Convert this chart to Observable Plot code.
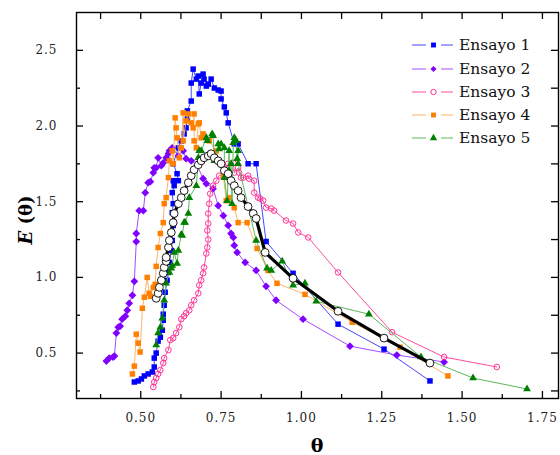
<!DOCTYPE html>
<html><head><meta charset="utf-8">
<script src="https://cdn.jsdelivr.net/npm/d3@7"></script>
<script src="https://cdn.jsdelivr.net/npm/@observablehq/plot@0.6"></script>
<style>body{margin:0;background:#fff}#chart{width:560px;height:455px}</style>
</head><body><div id="chart"></div>
<script>
// [θ, E(θ)]
const ensayo1 = [[0.480,0.309],[0.492,0.316],[0.502,0.329],[0.511,0.349],[0.523,0.362],[0.536,0.375],[0.542,0.408],[0.542,0.467],[0.548,0.500],[0.554,0.579],[0.561,0.605],[0.567,0.651],[0.570,0.717],[0.570,0.757],[0.573,0.816],[0.576,0.902],[0.582,0.981],[0.586,1.033],[0.589,1.099],[0.595,1.178],[0.598,1.244],[0.601,1.343],[0.598,1.428],[0.601,1.487],[0.598,1.560],[0.604,1.606],[0.601,1.639],[0.617,1.639],[0.613,1.685],[0.601,1.751],[0.617,1.856],[0.626,1.902],[0.635,1.948],[0.641,1.988],[0.645,2.047],[0.645,2.100],[0.657,2.165],[0.657,2.284],[0.663,2.376],[0.673,2.310],[0.679,2.330],[0.682,2.212],[0.688,2.284],[0.694,2.343],[0.697,2.310],[0.704,2.264],[0.710,2.277],[0.719,2.310],[0.729,2.251],[0.741,2.238],[0.750,2.231],[0.750,2.179],[0.760,2.126],[0.766,2.087],[0.772,2.021],[0.791,1.882],[0.803,1.882],[0.834,1.751],[0.859,1.751],[0.890,1.237],[0.974,1.027],[1.114,0.691],[1.257,0.526],[1.400,0.316]];
const ensayo2 = [[0.393,0.447],[0.402,0.467],[0.414,0.474],[0.418,0.480],[0.424,0.632],[0.430,0.671],[0.436,0.678],[0.442,0.724],[0.452,0.744],[0.458,0.783],[0.464,0.829],[0.474,0.882],[0.480,0.974],[0.486,1.237],[0.486,1.290],[0.495,1.441],[0.508,1.441],[0.514,1.560],[0.523,1.626],[0.530,1.632],[0.539,1.692],[0.542,1.724],[0.548,1.724],[0.554,1.790],[0.564,1.738],[0.570,1.757],[0.579,1.790],[0.586,1.817],[0.589,1.836],[0.598,1.856],[0.617,1.803],[0.632,1.836],[0.641,1.784],[0.657,1.770],[0.676,1.738],[0.694,1.652],[0.704,1.619],[0.725,1.586],[0.741,1.474],[0.757,1.408],[0.772,1.343],[0.781,1.290],[0.788,1.264],[0.791,1.211],[0.800,1.165],[0.825,1.099],[0.859,1.046],[0.890,0.941],[0.921,0.849],[1.005,0.724],[1.151,0.546],[1.297,0.487],[1.444,0.441]];
const ensayo3 = [[0.539,0.276],[0.542,0.309],[0.548,0.335],[0.554,0.362],[0.561,0.388],[0.570,0.434],[0.573,0.467],[0.586,0.520],[0.592,0.586],[0.601,0.599],[0.610,0.632],[0.620,0.671],[0.626,0.724],[0.635,0.744],[0.641,0.763],[0.651,0.783],[0.657,0.816],[0.666,0.849],[0.679,0.895],[0.682,0.948],[0.688,0.981],[0.694,1.027],[0.697,1.066],[0.704,1.158],[0.707,1.198],[0.710,1.250],[0.707,1.310],[0.710,1.356],[0.710,1.422],[0.713,1.487],[0.716,1.553],[0.725,1.606],[0.735,1.639],[0.744,1.672],[0.760,1.685],[0.766,1.718],[0.772,1.751],[0.788,1.757],[0.791,1.692],[0.803,1.724],[0.806,1.692],[0.812,1.659],[0.819,1.659],[0.834,1.672],[0.837,1.652],[0.853,1.639],[0.853,1.560],[0.865,1.527],[0.872,1.520],[0.881,1.507],[0.890,1.461],[0.906,1.455],[0.915,1.441],[0.952,1.376],[0.974,1.356],[0.990,1.297],[1.021,1.264],[1.114,1.033],[1.282,0.638],[1.444,0.474],[1.608,0.408]];
const ensayo4 = [[0.474,0.362],[0.480,0.414],[0.486,0.625],[0.492,0.566],[0.498,0.507],[0.505,0.796],[0.511,0.869],[0.520,1.000],[0.526,0.895],[0.530,0.875],[0.539,0.934],[0.545,0.954],[0.548,1.073],[0.554,1.198],[0.561,1.290],[0.570,1.362],[0.573,1.487],[0.579,1.527],[0.586,1.659],[0.589,1.770],[0.598,1.836],[0.601,1.751],[0.607,2.054],[0.610,1.988],[0.613,1.922],[0.620,1.790],[0.626,1.856],[0.632,2.087],[0.632,1.902],[0.641,2.034],[0.648,2.080],[0.657,2.021],[0.663,1.988],[0.666,2.080],[0.666,1.902],[0.673,1.856],[0.679,2.014],[0.682,2.021],[0.688,1.922],[0.694,1.948],[0.713,1.902],[0.735,1.836],[0.757,1.672],[0.766,1.507],[0.775,1.527],[0.791,1.461],[0.803,1.362],[0.831,1.362],[0.862,1.191],[0.896,1.046],[0.924,0.961],[1.011,0.888],[1.158,0.704],[1.307,0.539],[1.456,0.349]];
const ensayo5 = [[0.548,0.553],[0.554,0.632],[0.561,0.671],[0.567,0.730],[0.573,0.849],[0.579,0.961],[0.589,1.033],[0.595,1.060],[0.598,1.079],[0.604,1.165],[0.613,1.092],[0.617,1.178],[0.626,1.283],[0.629,1.277],[0.635,1.362],[0.638,1.362],[0.648,1.422],[0.651,1.527],[0.673,1.606],[0.679,1.790],[0.682,1.836],[0.688,1.836],[0.704,1.922],[0.707,1.902],[0.722,1.948],[0.725,1.935],[0.729,1.770],[0.741,1.882],[0.744,1.849],[0.750,1.882],[0.760,1.856],[0.760,1.659],[0.769,1.507],[0.775,1.836],[0.775,1.705],[0.781,1.751],[0.784,1.487],[0.788,1.889],[0.791,1.922],[0.797,1.902],[0.800,1.784],[0.803,1.836],[0.803,1.751],[0.859,1.244],[0.893,1.060],[0.906,1.046],[0.940,1.106],[0.974,0.948],[1.011,0.961],[1.046,0.842],[1.210,0.757],[1.372,0.474],[1.534,0.335],[1.702,0.263]];
const promedio = [[0.548,0.862],[0.554,0.895],[0.558,0.934],[0.564,0.981],[0.570,1.027],[0.573,1.066],[0.579,1.106],[0.579,1.132],[0.586,1.198],[0.589,1.244],[0.595,1.297],[0.601,1.362],[0.604,1.422],[0.617,1.487],[0.626,1.527],[0.635,1.573],[0.648,1.626],[0.657,1.672],[0.666,1.711],[0.679,1.744],[0.688,1.770],[0.697,1.790],[0.710,1.803],[0.719,1.817],[0.729,1.790],[0.741,1.770],[0.750,1.751],[0.760,1.705],[0.772,1.685],[0.781,1.639],[0.791,1.606],[0.803,1.573],[0.812,1.527],[0.834,1.468],[0.850,1.422],[0.859,1.389],[0.887,1.165],[0.974,0.994],[1.114,0.776],[1.257,0.599],[1.400,0.434]];

const seriesNames = ["Ensayo 1","Ensayo 2","Ensayo 3","Ensayo 4","Ensayo 5"];
const xTickLabels = [0.50,0.75,1.00,1.25,1.50,1.75];
const xMinorTicks = [0.375,0.625,0.875,1.125,1.375,1.625];
const yTickLabels = [0.5,1.0,1.5,2.0,2.5];
const yMinorTicks = [0.25,0.75,1.25,1.75,2.25];

// styles
const markerColors = ["#0000ff","#8000ff","#ff3399","#ff8000","#007f00"];
const lineColors = ["#4646ff","#a64dff","#ff4d9e","#ffb366","#5cb85c"];
const symbols = ["square","diamond2","circle","square","triangle"];
const sizes = [3.1,3.5,2.8,3.1,2.9];

const W=560,H=455,ML=76,MR=2,MT=12,MB=57;
const FW=W-ML-MR, FH=H-MT-MB;
const font = "DejaVu Serif";

const toRows = arr => arr.map(([x,y]) => ({x,y}));
const all = [ensayo1,ensayo2,ensayo3,ensayo4,ensayo5];

const marks = [];
all.forEach((arr,i) => {
  const rows = toRows(arr);
  marks.push(Plot.line(rows,{x:"x",y:"y",stroke:lineColors[i],strokeWidth:1}));
  if (symbols[i]==="circle")
    marks.push(Plot.dot(rows,{x:"x",y:"y",r:sizes[i],fill:"white",fillOpacity:0,stroke:markerColors[i],strokeWidth:1}));
  else
    marks.push(Plot.dot(rows,{x:"x",y:"y",symbol:symbols[i],r:sizes[i],fill:markerColors[i],stroke:"none"}));
});
const avg = toRows(promedio);
marks.push(Plot.line(avg,{x:"x",y:"y",stroke:"#000",strokeWidth:3.2}));
marks.push(Plot.dot(avg,{x:"x",y:"y",r:3.9,fill:"white",stroke:"#000",strokeWidth:0.9}));

// frame and inward ticks
const tk = {stroke:"#000",strokeWidth:1.3};
marks.push(Plot.frame({stroke:"#000",strokeWidth:1.4}));
marks.push(Plot.ruleX(xTickLabels,{...tk,insetTop:FH-7}));
marks.push(Plot.ruleX(xMinorTicks,{...tk,insetTop:FH-4}));
marks.push(Plot.ruleX(xTickLabels.concat(xMinorTicks),{...tk,insetBottom:FH-7}));
marks.push(Plot.ruleY(yTickLabels,{...tk,insetRight:FW-7}));
marks.push(Plot.ruleY(yMinorTicks,{...tk,insetRight:FW-4}));
marks.push(Plot.ruleY(yTickLabels.concat(yMinorTicks),{...tk,insetLeft:FW-7}));
marks.push(Plot.axisX({ticks:xTickLabels,tickSize:0,tickPadding:15,tickFormat:d3.format(".2f"),fontSize:12,fill:"#222"}));
marks.push(Plot.axisY({ticks:yTickLabels,tickSize:0,tickPadding:19,tickFormat:d3.format(".1f"),fontSize:12,fill:"#222"}));

const svg = Plot.plot({
  width:W,height:H,marginLeft:ML,marginRight:MR,marginTop:MT,marginBottom:MB,
  x:{domain:[0.30,1.80],label:null},
  y:{domain:[0.20,2.75],label:null},
  style:{fontFamily:font,fontSize:"12px",letterSpacing:"1px",background:"#fff"},
  marks
});

const s = d3.select(svg);
// y label
const yl = s.append("text").attr("transform","translate(25,220) rotate(-90)")
  .attr("text-anchor","middle").attr("dominant-baseline","central")
  .attr("font-family",font).attr("font-size",18).attr("font-weight","bold").attr("letter-spacing","0");
yl.append("tspan").attr("font-style","italic").text("E");
yl.append("tspan").text(" (θ)");
// x label
s.append("text").attr("x",ML+FW/2).attr("y",445).attr("text-anchor","middle").attr("dominant-baseline","central")
  .attr("font-family",font).attr("font-size",19).attr("font-weight","bold").attr("letter-spacing","0").text("θ");

// legend
const lg = s.append("g").attr("font-family",font).attr("font-size",15.5).attr("letter-spacing","0").attr("text-anchor","start");
const rowY = [45,69,92,115,138];
const symMap = {square:d3.symbolSquare,diamond2:d3.symbolDiamond2,circle:d3.symbolCircle,triangle:d3.symbolTriangle};
seriesNames.forEach((name,i) => {
  const y = rowY[i];
  lg.append("line").attr("x1",412).attr("x2",426).attr("y1",y).attr("y2",y).attr("stroke",lineColors[i]).attr("stroke-width",1);
  lg.append("line").attr("x1",441).attr("x2",453).attr("y1",y).attr("y2",y).attr("stroke",lineColors[i]).attr("stroke-width",1);
  const p = lg.append("path").attr("transform",`translate(433.5,${y})`)
    .attr("d",d3.symbol(symMap[symbols[i]], symbols[i]==="circle"?22:24)());
  if (symbols[i]==="circle") p.attr("fill","white").attr("stroke",markerColors[i]).attr("stroke-width",1);
  else p.attr("fill",markerColors[i]);
  lg.append("text").attr("x",459).attr("y",y).attr("text-anchor","start").attr("dominant-baseline","central").attr("fill","#111").text(name);
});

document.getElementById("chart").appendChild(svg);
</script>
</body></html>
